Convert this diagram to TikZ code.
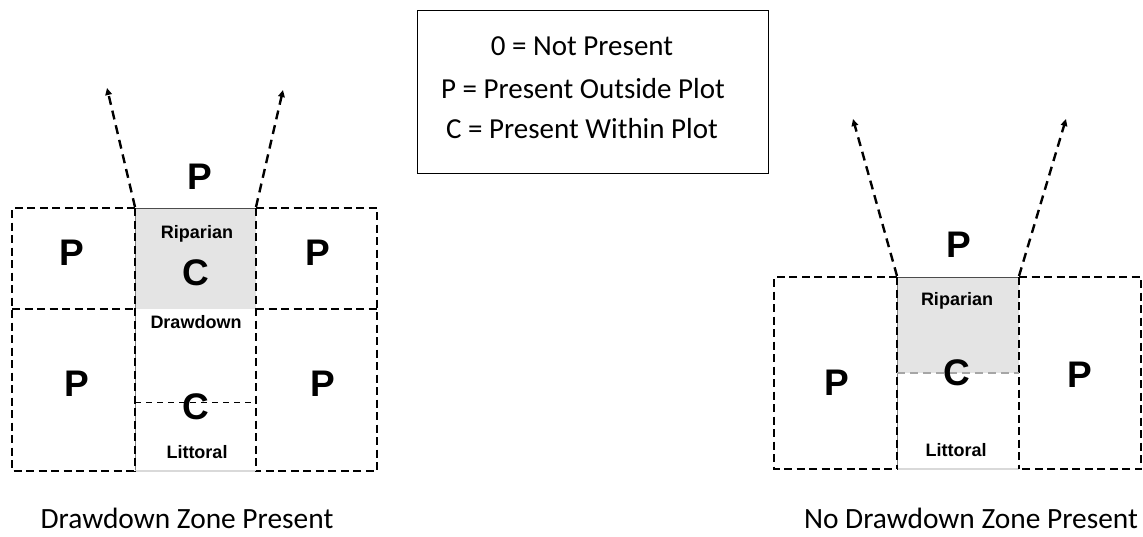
\documentclass[tikz,border=0pt]{standalone}
\usepackage{fontspec}
\setmainfont{Carlito}
\newfontfamily\arialf{Liberation Sans}
\usetikzlibrary{arrows.meta}
\definecolor{ripgray}{HTML}{E4E4E4}
\tikzset{
  bigdash/.style={line width=1.9pt, dash pattern=on 8pt off 4.5pt},
  thindash/.style={line width=0.9pt, dash pattern=on 6pt off 5pt},
  edge/.style={line width=0.8pt, draw=gray},
  arrowdash/.style={line width=2.4pt, dash pattern=on 9pt off 6pt, -{Triangle[length=7pt,width=6.5pt]}},
  bigletter/.style={font=\arialf\bfseries\fontsize{37}{37}\selectfont, inner sep=0pt},
  zonelabel/.style={font=\arialf\bfseries\fontsize{18}{18}\selectfont, inner sep=0pt},
  legendtext/.style={font=\fontsize{29}{34}\selectfont, inner sep=0pt, anchor=base},
  caption/.style={font=\fontsize{29.4}{34}\selectfont, inner sep=0pt, anchor=base}
}
\begin{document}
\begin{tikzpicture}[x=1pt,y=-1pt]
\useasboundingbox (0,0) rectangle (1143,536);

% ---------- legend ----------
\node[draw, line width=1.4pt, minimum width=351pt, minimum height=163pt, anchor=north west, inner sep=0pt] (legend) at (417,10) {};
\node[legendtext] (l0) at (582,55) {0 = Not Present};
\node[legendtext] (l1) at (583,98) {P = Present Outside Plot};
\node[legendtext] (l2) at (582,138) {C = Present Within Plot};

% ---------- left diagram ----------
\fill[ripgray] (135,208) rectangle (256,309);
\draw[edge] (135,208) -- (135,471);
\draw[line width=0.8pt, draw=black!70] (135,208) -- (256,208);
\draw[line width=1.2pt, draw=black!15] (135,471) -- (256,471);
\draw[bigdash] (135,208) -- (12,208) -- (12,471) -- (135,471);
\draw[bigdash] (256,208) -- (377,208) -- (377,471) -- (256,471);
\draw[bigdash] (12,309) -- (135,309);
\draw[bigdash] (256,309) -- (377,309);
\draw[bigdash] (135,208) -- (135,471);
\draw[bigdash] (256,208) -- (256,471);
\draw[thindash] (135,402) -- (256,402);

\coordinate (la0) at (135,207);
\coordinate (la1) at (107,88);
\coordinate (ra0) at (256,207);
\coordinate (ra1) at (283,90);
\draw[arrowdash] (la0) -- (la1);
\draw[arrowdash] (ra0) -- (ra1);

\node[bigletter] (lPtop) at (200,177) {P};
\node[bigletter] (lPul) at (72,253) {P};
\node[bigletter] (lPur) at (318,253) {P};
\node[bigletter] (lPll) at (77,384) {P};
\node[bigletter] (lPlr) at (323,384) {P};
\node[zonelabel] (lrip) at (197,234) {Riparian};
\node[bigletter] (lC1) at (196,273) {C};
\node[zonelabel] (ldd) at (196,322) {Drawdown};
\node[bigletter] (lC2) at (196,407) {C};
\node[zonelabel] (llit) at (197,452) {Littoral};

\node[caption] (cap1) at (187,528) {Drawdown Zone Present};

% ---------- right diagram ----------
\fill[ripgray] (897,277) rectangle (1019,373);
\draw[edge] (897,277) -- (897,469);
\draw[line width=0.8pt, draw=black!70] (897,277) -- (1019,277);
\draw[line width=1.2pt, draw=black!15] (897,469) -- (1019,469);
\draw[bigdash] (897,277) -- (774,277) -- (774,469) -- (897,469);
\draw[bigdash] (1019,277) -- (1141,277) -- (1141,469) -- (1019,469);
\draw[bigdash] (897,277) -- (897,469);
\draw[bigdash] (1019,277) -- (1019,469);
\draw[line width=1.4pt, draw=black!35, dash pattern=on 8pt off 5pt] (897,373) -- (1019,373);

\coordinate (la2) at (897,276);
\coordinate (la3) at (853,119);
\coordinate (ra2) at (1019,276);
\coordinate (ra3) at (1066,119);
\draw[arrowdash] (la2) -- (la3);
\draw[arrowdash] (ra2) -- (ra3);

\node[bigletter] (rPtop) at (959,245) {P};
\node[bigletter] (rPl) at (837,383) {P};
\node[bigletter] (rPr) at (1080,375) {P};
\node[zonelabel] (rrip) at (957,301) {Riparian};
\node[bigletter] (rC) at (957,373) {C};
\node[zonelabel] (rlit) at (956,450) {Littoral};

\node[caption] (cap2) at (971,528) {No Drawdown Zone Present};
\end{tikzpicture}
\end{document}
